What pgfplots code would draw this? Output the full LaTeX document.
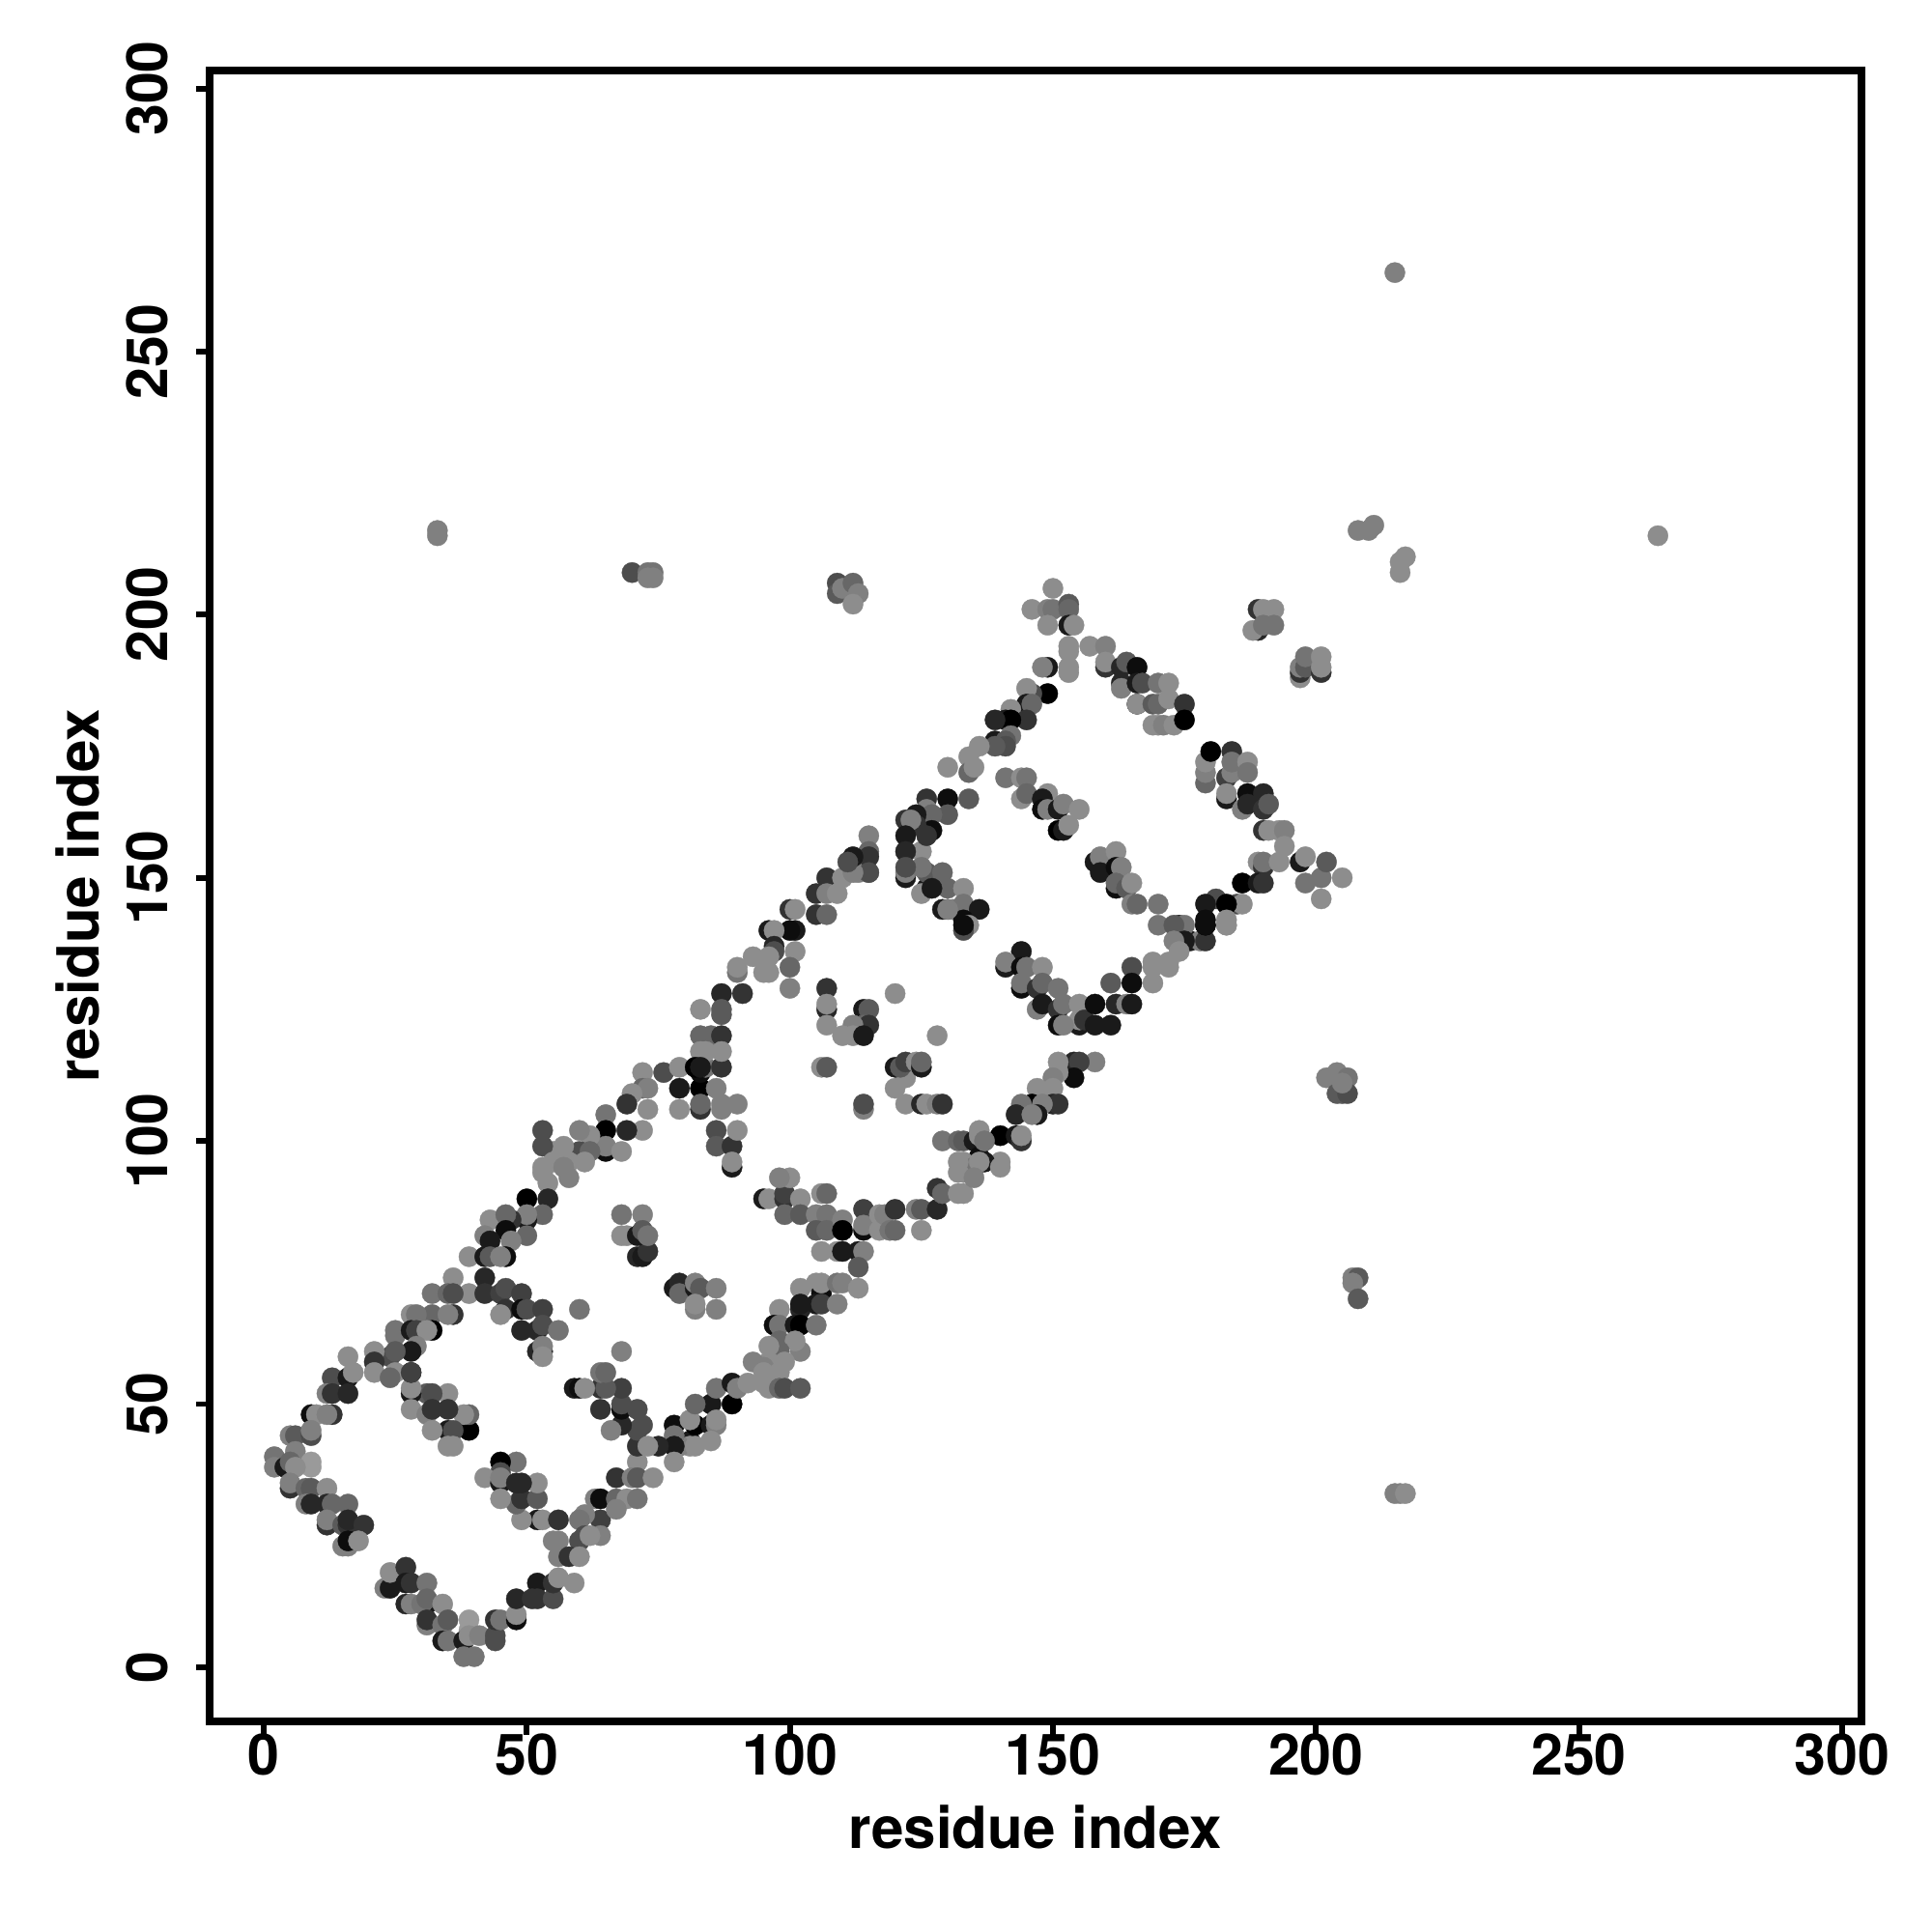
\documentclass[border=0pt]{standalone}
\usepackage{pgfplots}
\pgfplotsset{compat=1.18}
\usepackage{pgfplotstable}
\usepackage{fontspec}
\setmainfont{TeX Gyre Heros}
\pgfplotstableread[row sep=\\]{
x y g\\
16 59 .55\\ 13 55 .3\\ 16 55 .1\\ 17 56 .55\\ 12 52 .5\\ 13 52 .2\\ 16 52 .15\\ 13 48 .2\\ 9 48 .05\\ 10 48 .55\\ 12 48 .5\\
5 44 .5\\ 6 44 .35\\ 9 44 .3\\ 9 45 .5\\ 2 40 .45\\ 2 38 .5\\ 4 38 .1\\ 6 41 .5\\ 5 39 .4\\ 9 39 .6\\ 9 38 .6\\ 6 38 .55\\
5 34 .2\\ 5 35 .5\\ 8 34 .4\\ 9 34 .35\\ 12 34 .55\\ 8 31 .5\\ 9 31 .15\\ 12 31 .15\\ 13 31 .4\\ 16 31 .4\\ 12 27 .2\\ 12 28 .5\\ 15 27 .35\\ 16 27 .2\\ 16 28 .15\\ 19 27 .2\\
15 23 .5\\ 16 23 .5\\ 16 24 .05\\ 18 24 .55\\
23 15 .5\\ 24 15 .1\\ 24 18 .55\\ 27 19 .2\\ 27 16 .1\\ 28 16 .2\\ 31 16 .45\\ 27 12 .15\\ 28 12 .5\\ 31 12 .1\\ 30 12 .45\\ 31 13 .4\\ 34 12 .55\\ 31 8 .5\\ 31 9 .2\\ 34 8 .45\\ 35 9 .35\\
39 9 .6\\ 39 7 .6\\ 34 5 .1\\ 35 5 .45\\ 38 5 .1\\ 39 6 .55\\ 41 6 .5\\ 38 2 .45\\ 40 2 .45\\ 44 5 .3\\ 44 6 .3\\ 44 9 .2\\ 45 9 .45\\
48 9 .05\\ 48 10 .55\\ 48 13 .15\\ 52 16 .1\\ 51 13 .2\\ 52 13 .2\\ 55 13 .3\\ 55 16 .2\\ 56 17 .55\\ 59 16 .55\\
52 28 .1\\ 53 28 .55\\ 56 28 .2\\ 49 28 .55\\ 48 31 .4\\ 49 32 .2\\ 52 32 .35\\ 52 35 .55\\ 48 39 .45\\ 45 39 0\\ 45 37 .3\\ 42 36 .55\\ 45 35 .1\\ 45 36 .5\\ 45 32 .55\\ 48 35 .15\\ 49 35 .15\\
39 45 0\\ 39 48 .4\\ 38 48 .55\\ 35 52 .55\\ 31 52 .35\\ 32 52 .3\\ 28 52 .1\\ 28 53 .55\\ 28 56 .2\\ 28 49 .55\\ 31 48 .5\\ 32 49 .2\\ 35 49 .2\\ 35 45 .1\\ 32 45 .55\\ 36 45 .3\\ 35 42 .55\\ 36 42 .55\\
71 39 .55\\ 67 36 .2\\ 70 36 .5\\ 71 36 .35\\ 63 32 .5\\ 64 32 .05\\ 67 32 .4\\ 69 32 .55\\ 71 32 .45\\ 64 28 .25\\ 67 30 .5\\ 61 29 .5\\ 60 28 .45\\ 61 25 .3\\ 60 24 .3\\ 64 25 .5\\ 62 25 .55\\ 56 24 .5\\ 56 21 .5\\ 58 21 .2\\ 60 21 .55\\ 55 24 .5\\
71 42 .2\\ 71 45 .3\\ 68 46 .15\\ 72 46 .3\\ 66 45 .5\\ 68 49 .05\\ 68 50 .3\\ 64 49 .2\\ 71 49 .3\\ 68 53 .25\\ 64 53 .2\\ 65 53 .35\\ 64 56 .45\\ 59 53 .1\\ 60 53 .05\\ 61 53 .55\\ 68 60 .5\\
76 113 .3\\ 72 113 .55\\ 79 114 .55\\ 79 110 .1\\ 83 110 0\\ 86 110 .5\\ 83 113 .05\\ 84 114 .45\\ 87 114 .2\\ 79 106 .55\\ 83 106 .2\\ 83 107 .4\\ 87 106 .5\\ 87 107 .5\\ 90 107 .5\\ 86 102 .3\\ 86 99 .35\\ 89 99 .2\\ 90 102 .55\\ 89 95 .1\\ 89 96 .55\\
72 110 .4\\ 73 110 .5\\ 70 109 .55\\ 69 107 .2\\ 73 106 .55\\ 72 102 .55\\ 65 105 .45\\ 69 102 .15\\ 65 102 0\\ 65 98 .05\\ 65 99 .5\\ 68 98 .55\\ 62 101 .55\\ 60 102 .5\\ 60 98 .3\\ 62 98 .4\\ 57 99 .55\\ 55 98 .55\\ 53 102 .3\\ 53 99 .3\\ 53 95 .55\\ 53 94 .55\\ 55 96 .55\\ 58 96 .55\\ 58 93 .5\\ 61 96 .55\\ 57 95 .5\\ 54 92 .55\\ 54 89 .15\\ 50 89 0\\ 53 86 .4\\ 50 85 .1\\ 50 86 .5\\
43 85 .55\\ 47 85 .2\\ 46 86 .4\\ 46 83 .05\\ 50 82 .4\\ 47 81 .5\\ 42 82 .5\\ 43 81 .1\\ 39 78 .55\\ 46 78 .05\\ 42 78 .1\\ 43 78 .35\\ 45 78 .5\\ 42 74 .15\\ 36 74 .55\\ 39 71 .55\\ 42 71 .2\\ 32 71 .45\\ 35 71 .4\\ 36 71 .3\\ 36 67 .2\\ 32 67 .4\\ 35 67 .5\\ 28 67 .55\\ 29 67 .45\\ 32 64 0\\ 25 64 .45\\ 25 63 .45\\ 28 64 .1\\ 29 64 .25\\ 31 64 .55\\ 29 61 .5\\ 28 60 .1\\ 24 59 .3\\ 25 60 .35\\ 21 60 .55\\ 21 58 .2\\ 21 56 .55\\ 25 56 .55\\ 24 55 .4\\ 28 56 .25\\
45 71 .25\\ 46 72 .3\\ 49 71 .25\\ 46 68 .2\\ 49 68 .05\\ 50 68 .3\\ 53 68 .25\\ 45 67 .55\\ 49 64 .15\\ 52 64 .15\\ 53 65 .3\\ 56 64 .45\\ 52 60 .15\\ 53 60 .1\\ 53 61 .5\\ 53 59 .55\\ 60 68 .45\\
71 78 .15\\ 72 78 .1\\ 73 79 .2\\ 68 86 .45\\ 72 86 .5\\ 68 82 .55\\ 69 82 .55\\ 71 82 .1\\ 72 83 .35\\ 73 82 .45\\
78 72 .1\\ 79 73 .15\\ 79 71 .4\\ 82 72 .1\\ 82 73 .5\\ 83 72 .35\\ 86 72 .5\\ 82 68 .5\\ 82 69 .55\\ 86 68 .5\\
65 56 .4\\
78 46 .05\\ 81 43 .1\\ 82 46 0\\ 81 47 .55\\ 85 50 .1\\ 82 50 .4\\ 86 53 .45\\ 89 50 0\\ 89 54 .1\\ 90 53 .5\\ 85 46 .1\\ 86 46 .5\\ 81 42 .55\\ 85 43 .55\\ 79 42 .5\\ 78 44 .45\\ 78 42 .1\\ 75 42 .15\\ 73 42 .55\\ 74 36 .55\\ 78 39 .55\\ 86 47 .55\\ 82 42 .55\\
95 89 .1\\ 96 89 .55\\ 99 89 .2\\ 99 90 .25\\ 102 89 .55\\ 100 93 .55\\ 98 93 .5\\ 99 86 .4\\ 102 86 .35\\ 106 90 .55\\ 107 90 .4\\ 105 86 .5\\ 107 86 .45\\ 105 83 .35\\ 107 83 .4\\ 106 79 .55\\ 109 79 .55\\ 110 85 .5\\ 110 83 0\\ 110 79 .1\\ 114 87 .25\\ 114 83 .05\\ 114 84 .5\\ 113 79 .1\\ 114 79 .5\\ 113 76 .35\\ 117 86 .55\\ 117 83 .55\\ 118 86 .5\\ 120 87 .2\\ 119 83 .45\\ 120 83 .4\\ 124 87 .5\\ 125 87 .35\\ 128 87 .15\\ 125 83 .55\\ 128 91 .2\\ 129 90 .4\\ 132 90 .55\\ 133 90 .55\\
102 72 .55\\ 105 73 .55\\ 106 71 .05\\ 106 73 .55\\ 109 73 .45\\ 110 73 .5\\ 113 72 .55\\ 102 68 .15\\ 102 69 .1\\ 105 69 .1\\ 106 69 .25\\ 109 69 .5\\ 98 68 .55\\ 97 65 .05\\ 98 65 .45\\ 101 65 .1\\ 102 65 0\\ 105 65 .45\\ 98 62 .4\\ 102 60 .5\\ 101 62 .55\\ 98 60 .4\\ 96 61 .55\\ 99 58 .55\\ 96 58 .55\\ 93 58 .5\\ 95 57 .5\\ 98 56 .55\\ 95 56 .55\\ 95 54 .55\\ 92 54 .55\\ 96 53 .55\\ 98 53 .4\\ 99 53 .3\\ 102 53 .35\\
101 140 .1\\ 107 150 .2\\ 110 150 .55\\ 113 151 .5\\ 115 151 .55\\ 105 147 .2\\ 107 147 .5\\ 109 147 .55\\ 105 143 .2\\ 107 143 .4\\ 100 144 .2\\ 101 144 .55\\ 100 140 .05\\ 101 136 .55\\ 100 133 .4\\ 100 129 .5\\ 96 140 .1\\ 97 140 .55\\ 97 137 .15\\ 97 136 .3\\ 93 135 .55\\ 96 135 .55\\ 95 132 .55\\ 96 132 .55\\ 90 132 .45\\ 90 133 .55\\ 91 128 .2\\ 87 128 .15\\ 83 125 .55\\ 87 125 .35\\ 87 124 .35\\
83 120 .4\\ 85 120 .4\\ 87 120 .2\\ 84 117 .55\\ 87 117 .55\\ 83 117 .55\\ 82 114 0\\ 83 114 .1\\
107 129 .2\\ 107 125 .15\\ 107 126 .55\\ 107 122 .55\\ 114 125 .1\\ 115 125 .35\\ 114 122 .4\\ 115 122 .2\\ 112 122 .5\\ 110 120 .55\\ 112 120 .55\\ 114 120 .1\\ 120 128 .55\\ 128 120 .55\\
106 114 .55\\ 107 114 .35\\ 114 106 .5\\ 114 107 .3\\ 120 110 .55\\ 122 112 .55\\ 120 114 .1\\ 121 114 .35\\ 122 115 .25\\ 124 115 .55\\ 125 114 .1\\ 125 115 .4\\ 122 107 .55\\ 125 107 .15\\ 126 107 .55\\ 128 107 .5\\ 129 107 .2\\
129 100 .45\\ 132 100 .4\\ 133 100 .35\\ 135 100 .1\\ 136 102 .55\\ 136 97 .05\\ 133 96 .55\\ 133 94 .55\\ 135 95 .45\\
126 148 .1\\ 125 147 .55\\ 130 148 .4\\ 133 148 .55\\ 130 144 .1\\ 131 144 .5\\ 133 145 .45\\ 136 144 .1\\ 133 142 .05\\ 134 141 .55\\ 133 140 .3\\ 126 151 .35\\ 129 151 .4\\ 122 150 .1\\ 122 151 .5\\
144 136 .1\\ 141 133 .1\\ 141 134 .5\\ 144 133 .05\\ 145 133 .45\\ 148 133 .55\\ 144 129 .05\\ 144 130 .45\\ 147 129 .2\\ 148 130 .4\\ 151 129 .45\\ 147 125 .5\\ 148 126 .1\\ 151 125 .2\\ 152 126 .45\\ 155 126 .55\\ 155 122 .1\\ 155 123 .55\\ 151 122 .05\\ 152 122 .5\\ 156 123 .2\\ 158 126 .05\\ 158 122 .1\\ 161 122 .1\\ 161 130 .35\\ 162 126 .15\\ 164 126 .5\\ 165 133 .3\\ 165 130 .05\\ 165 126 .1\\ 169 133 .55\\ 169 130 .55\\ 172 133 .55\\ 174 137 .55\\ 174 138 .5\\ 176 138 .1\\ 178 138 .5\\ 179 138 .2\\ 179 141 0\\ 183 141 .55\\
158 115 .5\\ 154 115 .15\\ 155 115 .25\\ 151 115 .55\\ 154 112 .05\\ 151 113 .55\\ 150 112 .5\\ 150 110 .55\\ 147 110 .55\\ 150 107 .15\\ 151 107 .2\\ 146 107 0\\ 148 107 .5\\ 147 105 .1\\ 144 107 .45\\ 143 105 .15\\ 146 105 .5\\ 140 101 0\\ 143 101 .1\\ 144 100 .2\\ 144 101 .55\\ 136 101 .55\\ 137 100 .45\\ 140 96 .55\\ 137 96 .1\\ 140 95 .55\\ 136 96 .55\\ 132 96 .55\\ 132 94 .55\\ 135 93 .5\\
150 205 .55\\ 146 201 .55\\ 149 201 .5\\ 150 201 .45\\ 153 202 .35\\ 153 201 .4\\ 149 198 .55\\ 153 198 .1\\ 154 198 .55\\ 153 194 .55\\ 153 193 .55\\ 157 194 .55\\ 160 194 .5\\ 160 190 .2\\ 160 191 .55\\ 149 190 .1\\ 148 190 .5\\ 153 190 .55\\ 153 189 .55\\ 163 190 .15\\ 164 191 .35\\ 166 190 .05\\ 163 187 .15\\ 163 186 .5\\ 166 187 .1\\ 167 187 .3\\ 166 183 .05\\ 166 183 .55\\ 170 187 .45\\ 172 187 .55\\ 169 183 .35\\ 170 183 .4\\ 172 184 .55\\ 175 183 .2\\ 169 179 .55\\ 170 179 .55\\ 171 179 .5\\ 173 179 .55\\ 175 180 0\\
149 185 0\\ 146 185 .3\\ 145 186 .55\\ 145 183 .1\\ 146 183 .4\\ 142 182 .55\\ 145 180 .2\\ 141 180 .1\\ 142 180 0\\ 139 180 .15\\ 139 176 .1\\ 142 177 .45\\ 141 176 .35\\ 141 175 .3\\ 139 175 .35\\ 136 175 .55\\ 134 173 .55\\ 130 171 .55\\ 134 170 .4\\ 135 171 .55\\ 130 165 .05\\ 126 165 .2\\ 134 165 .35\\ 126 163 .5\\ 130 162 .35\\ 127 162 .4\\ 127 159 .05\\ 124 162 .1\\ 124 160 .2\\ 125 155 .55\\ 122 155 .55\\ 125 152 .45\\ 127 148 .1\\ 129 144 .1\\ 130 144 .5\\ 133 141 .05\\
141 169 .45\\ 144 169 .55\\ 145 169 .45\\ 144 165 .55\\ 145 166 .4\\ 149 166 .55\\ 148 165 .1\\ 148 163 .05\\ 149 163 .5\\ 151 163 .1\\ 152 164 .5\\ 155 163 .55\\ 151 159 0\\ 152 159 .1\\ 153 160 .55\\
158 153 .1\\ 159 154 .5\\ 162 155 .55\\ 159 151 .1\\ 162 152 .05\\ 163 152 .5\\ 162 148 .05\\ 162 149 .4\\ 164 148 .35\\ 165 149 .55\\ 165 145 .5\\ 166 145 .4\\ 170 145 .45\\ 170 141 .45\\
179 168 .4\\ 179 170 .5\\ 179 172 .55\\ 180 174 0\\ 184 174 .2\\ 183 169 .25\\ 184 170 .5\\ 184 172 .45\\ 187 172 .55\\ 187 170 .45\\ 183 165 .1\\ 183 166 .55\\ 187 166 .05\\ 190 166 .15\\ 186 163 .5\\ 187 164 .15\\ 190 163 .2\\ 191 164 .35\\ 190 159 .2\\ 191 159 .55\\ 193 159 .55\\ 194 159 .5\\ 194 156 .55\\ 189 153 .55\\ 190 152 .2\\ 190 153 .45\\ 193 153 .55\\ 197 153 .1\\ 198 154 .55\\ 198 149 .45\\ 201 150 .45\\ 202 153 .35\\ 205 150 .55\\ 201 146 .55\\
186 149 0\\ 189 149 .1\\ 190 149 .2\\ 185 145 .3\\ 186 145 .55\\ 181 146 .3\\ 183 145 0\\ 179 145 .1\\ 183 142 .55\\ 183 141 .55\\ 179 142 .05\\ 179 141 .05\\ 174 141 .1\\ 175 141 .45\\ 173 141 .35\\ 175 138 .1\\ 173 138 .5\\ 174 136 .55\\ 172 134 .55\\ 169 134 .55\\
33 216 .5\\ 33 215 .5\\ 70 208 .3\\ 73 208 .45\\ 74 208 .45\\ 74 207 .5\\ 73 207 .5\\
109 206 .3\\ 109 204 .35\\ 110 205 .5\\ 112 206 .4\\ 113 204 .5\\ 112 202 .55\\ 215 265 .5\\ 265 215 .55\\ 208 216 .5\\ 210 216 .5\\ 211 217 .5\\ 217 211 .55\\ 216 210 .55\\ 216 208 .55\\
189 201 .2\\ 190 201 .55\\ 192 201 .55\\ 189 197 .15\\ 188 197 .55\\ 190 198 .45\\ 192 198 .45\\ 197 188 .55\\ 197 189 .2\\ 197 190 .5\\ 198 190 .35\\ 198 192 .45\\ 201 189 .2\\ 201 190 .55\\ 201 192 .55\\
202 112 .5\\ 204 113 .5\\ 206 112 .45\\ 204 109 .35\\ 205 109 .35\\ 206 109 .3\\ 205 111 .5\\ 207 74 .5\\ 208 74 .35\\ 207 73 .5\\ 208 70 .35\\ 215 33 .5\\ 216 33 .5\\ 217 33 .55\\
115 158 .5\\ 115 155 .4\\ 115 154 .2\\ 115 151 .3\\ 112 151 .5\\ 112 154 .1\\ 111 153 .3\\ 122 161 .2\\ 123 161 .5\\ 122 158 .1\\ 126 158 .2\\ 122 155 .15\\ 122 152 .3\\
}\ptdata
\begin{document}
\begin{tikzpicture}
\useasboundingbox (0,0) rectangle (20cm,20cm);
\begin{axis}[
  at={(2.17cm,2.18cm)}, anchor=south west,
  scale only axis, width=17.1cm, height=17.09cm,
  xmin=-10.3, xmax=303.7, ymin=-10.3, ymax=303.4,
  xtick={0,50,...,300}, ytick={0,50,...,300},
  xtick pos=lower, ytick pos=left, tick align=outside,
  major tick length=1.4mm,
  axis line style={line width=2.2pt},
  tick style={line width=1.7pt, black},
  /pgf/number format/assume math mode=true,
  tick label style={font=\fontsize{16.8}{20}\selectfont\bfseries},
  yticklabel style={rotate=90, anchor=center, yshift=5.1mm},
  xticklabel style={anchor=center, yshift=-2.0mm},
  xlabel={residue index}, ylabel={residue index},
  label style={font=\fontsize{17.1}{20}\selectfont\bfseries},
  xlabel style={at={(axis description cs:0.5,-0.064)}, anchor=center},
  ylabel style={at={(axis description cs:-0.0798,0.5)}, anchor=center},
  colormap={grr}{gray(0cm)=(0); gray(1cm)=(1)},
  point meta min=0, point meta max=1,
  clip=false,
]
\addplot[scatter, only marks, mark=*, mark size=3pt, mark options={line width=0.1pt},
  scatter/use mapped color={draw=mapped color, fill=mapped color}, scatter src=explicit]
  table[x=x, y=y, meta=g] {\ptdata};
\end{axis}
\end{tikzpicture}
\end{document}
